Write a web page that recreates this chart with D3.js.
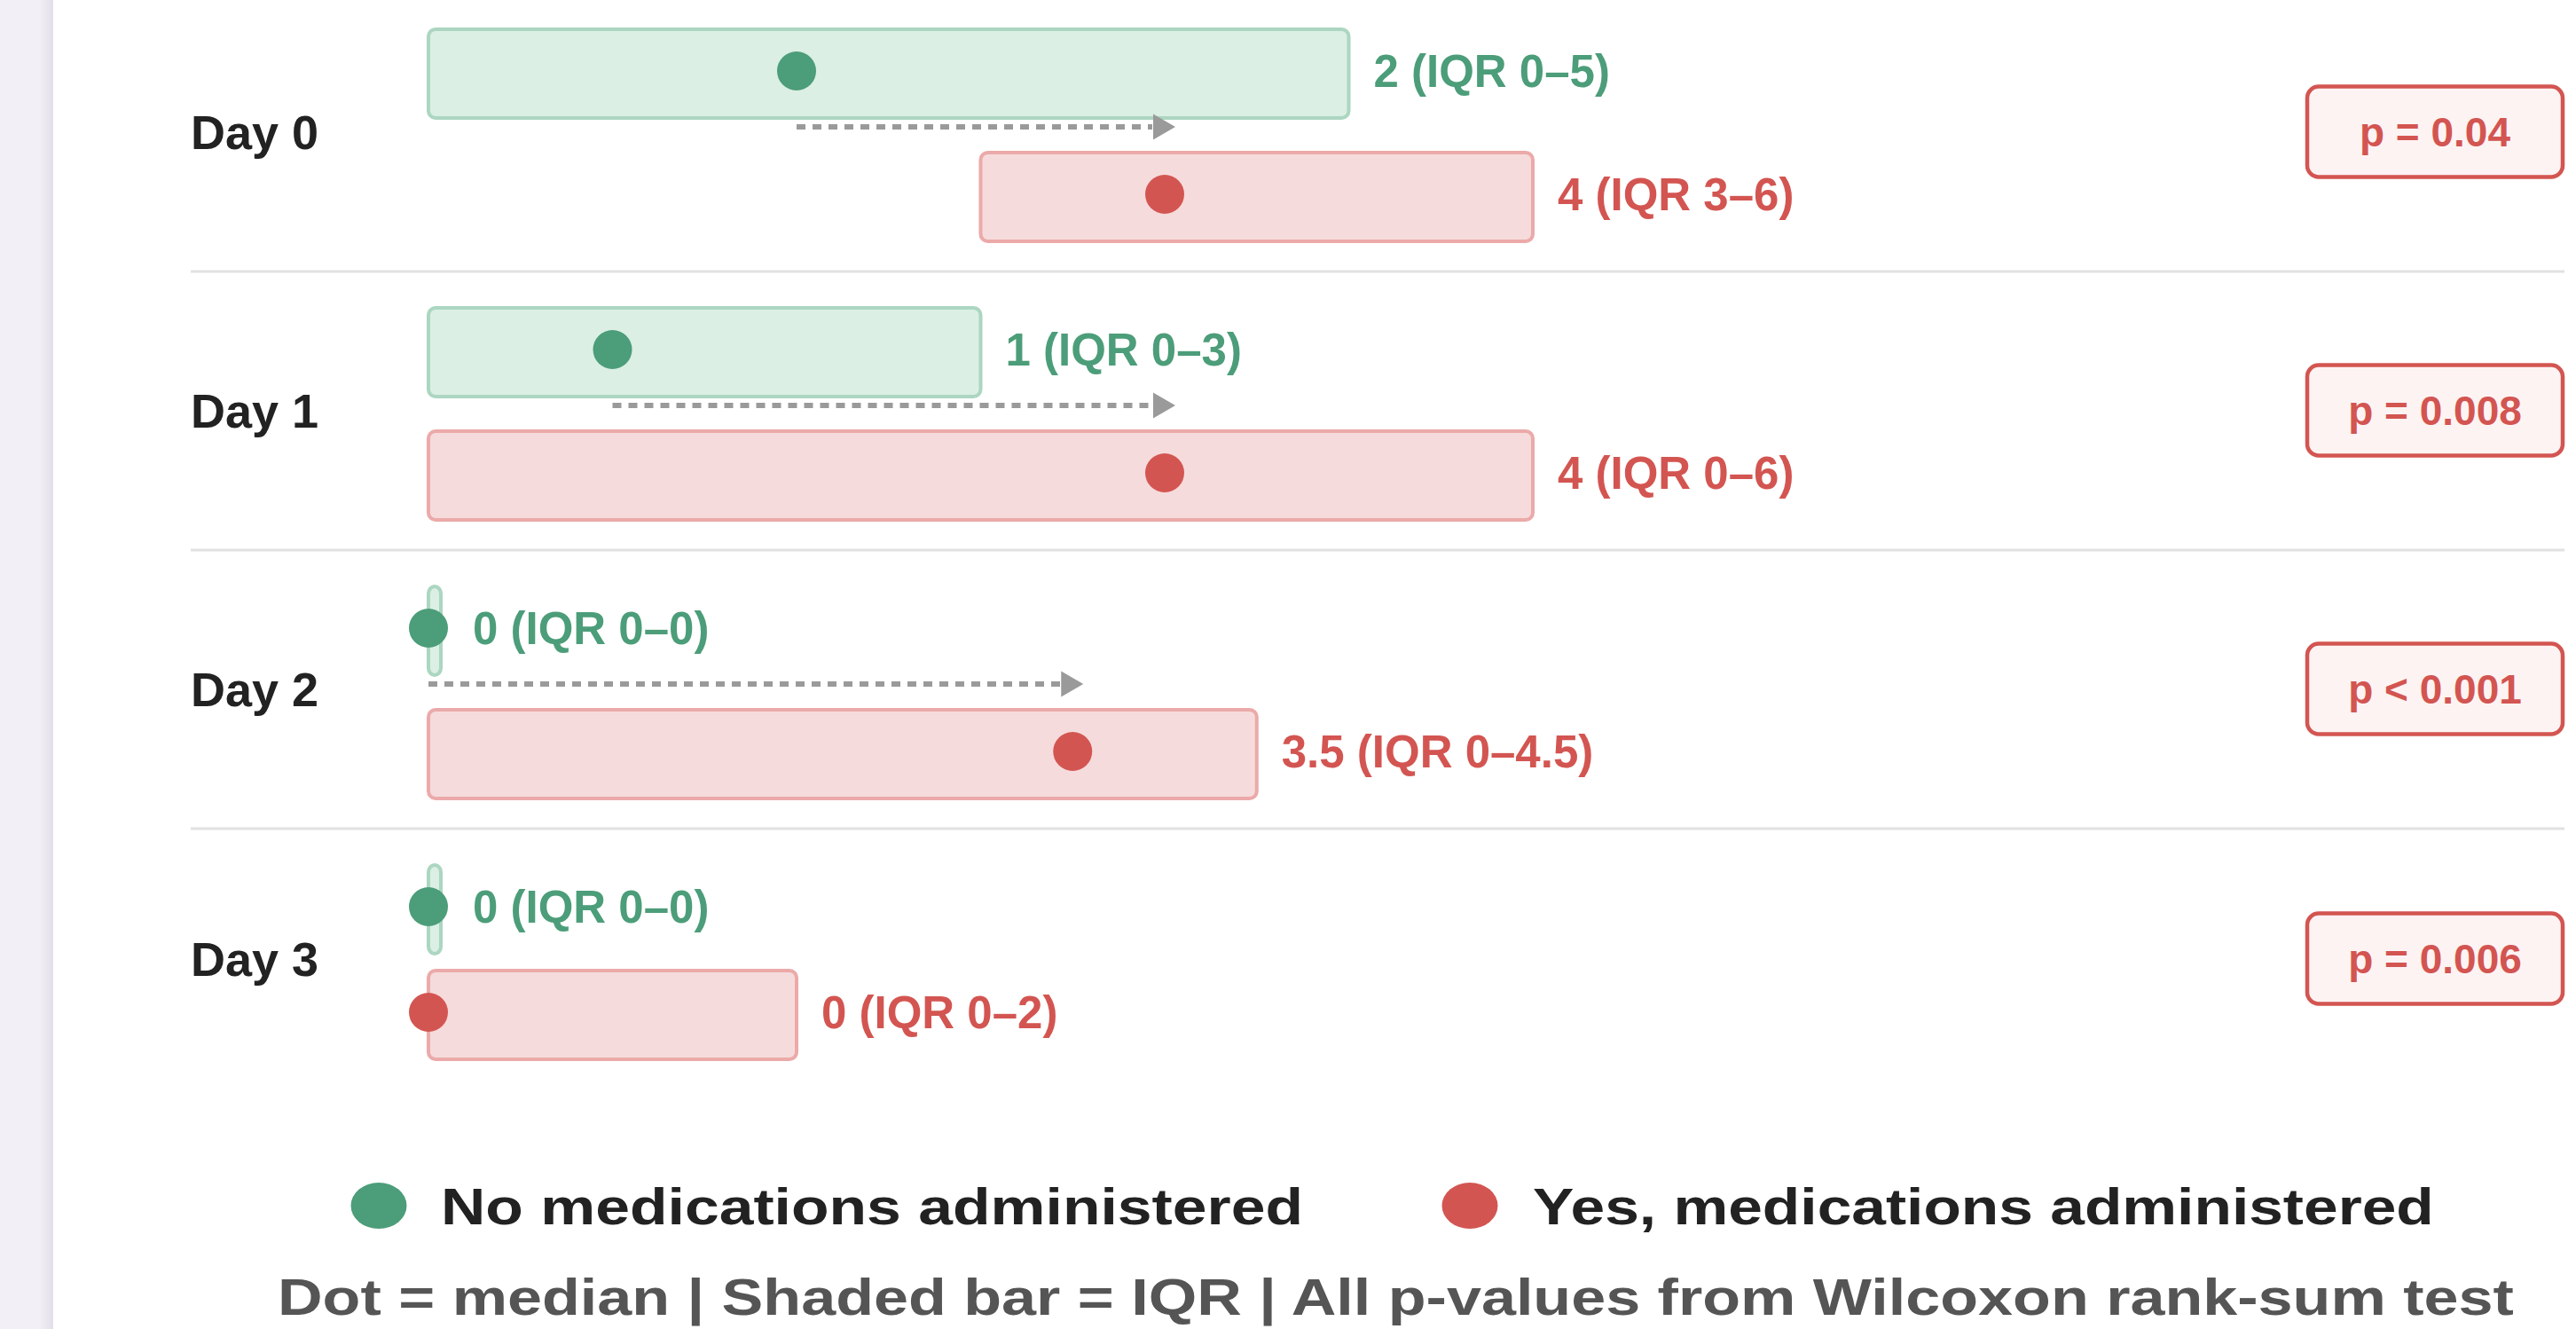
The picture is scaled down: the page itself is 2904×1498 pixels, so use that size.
<!DOCTYPE html>
<html>
<head>
<meta charset="utf-8">
<script src="https://cdn.jsdelivr.net/npm/d3@7"></script>
<style>
  body { margin: 0; background: #fff; }
  text { font-family: "Liberation Sans", Arial, Helvetica, sans-serif; font-weight: bold; }
</style>
</head>
<body>
<div id="chart"></div>
<script>
const width = 2904
const height = 1498

// data
const days = ["Day 0", "Day 1", "Day 2", "Day 3"]
const noMedMedian = [2, 1, 0, 0]
const noMedQ1 = [0, 0, 0, 0]
const noMedQ3 = [5, 3, 0, 0]
const medMedian = [4, 4, 3.5, 0]
const medQ1 = [3, 0, 0, 0]
const medQ3 = [6, 6, 4.5, 2]
const pValues = ["p = 0.04", "p = 0.008", "p < 0.001", "p = 0.006"]
const legendLabels = ["No medications administered", "Yes, medications administered"]
const footnote = "Dot = median | Shaded bar = IQR | All p-values from Wilcoxon rank-sum test"

const green = "#4c9d79"
const red = "#d35551"

const svg = d3.select("div#chart").append("svg").attr("width", width).attr("height", height)

// left side panel
svg.append("rect").attr("x", 0).attr("y", 0).attr("width", 60).attr("height", height).attr("fill", "#f2eff6")
const grad = svg.append("defs").append("linearGradient").attr("id", "edge")
grad.append("stop").attr("offset", "0%").attr("stop-color", "#f2eff6")
grad.append("stop").attr("offset", "100%").attr("stop-color", "#e3dfea")
svg.append("rect").attr("x", 44).attr("y", 0).attr("width", 16).attr("height", height).attr("fill", "url(#edge)")

const x = d3.scaleLinear().domain([0, 6]).range([483, 1728])

const rows = days.map((d, i) => ({
    day: d,
    g: {med: noMedMedian[i], q1: noMedQ1[i], q3: noMedQ3[i]},
    r: {med: medMedian[i], q1: medQ1[i], q3: medQ3[i]},
    p: pValues[i],
    arrow: noMedMedian[i] !== medMedian[i]
}))

// row geometry (relative to row top)
const barTop = 41, barH = 100
rows.forEach(r => {
    r.redTop = barTop + barH + (r.arrow ? 39 : 19)
    r.bottom = r.redTop + barH
    r.height = r.bottom + 34
    r.center = (barTop + r.bottom) / 2 - 4
})
let acc = -8
rows.forEach(r => { r.top = acc; acc += r.height })

const label = s => `${s.med} (IQR ${s.q1}\u2013${s.q3})`

const rowG = svg.selectAll("g.row").data(rows).enter()
    .append("g").attr("class", "row")
    .attr("transform", d => `translate(0, ${d.top})`)

// separators
rowG.filter((d, i) => i < rows.length - 1)
    .append("line")
    .attr("x1", 215).attr("x2", 2891)
    .attr("y1", d => d.height).attr("y2", d => d.height)
    .attr("stroke", "#e2e2e2").attr("stroke-width", 3)

// day labels
rowG.append("text")
    .attr("x", 215).attr("y", d => d.center + 19)
    .attr("font-size", 54).attr("fill", "#222")
    .text(d => d.day)

function drawGroup(sel, key, top, fill, stroke, color) {
    sel.append("rect")
        .attr("x", d => x(d[key].q1))
        .attr("y", d => top(d))
        .attr("width", d => Math.max(x(d[key].q3) - x(d[key].q1), 14))
        .attr("height", barH)
        .attr("rx", 8)
        .attr("fill", fill).attr("stroke", stroke).attr("stroke-width", 4)
    sel.append("circle")
        .attr("cx", d => x(d[key].med))
        .attr("cy", d => top(d) + barH / 2 - 3)
        .attr("r", 22)
        .attr("fill", color)
    sel.append("text")
        .attr("x", d => Math.max(x(d[key].q3), x(d[key].med) + 22) + 28)
        .attr("y", d => top(d) + barH / 2 - 3 + 18)
        .attr("font-size", 51).attr("fill", color)
        .text(d => label(d[key]))
}

drawGroup(rowG, "g", d => barTop, "#dbefe4", "#acd6c1", green)
drawGroup(rowG, "r", d => d.redTop, "#f6dbdc", "#ebaaa9", red)

// arrows from the no-med median to the med median
const arrows = rowG.filter(d => d.arrow)
const arrowY = barTop + barH + 10
arrows.append("line")
    .attr("x1", d => x(d.g.med))
    .attr("x2", d => x(d.r.med) - 14)
    .attr("y1", arrowY).attr("y2", arrowY)
    .attr("stroke", "#9a9a9a").attr("stroke-width", 6)
    .attr("stroke-dasharray", "10 8")
arrows.append("path")
    .attr("d", d => {
        const tip = x(d.r.med) + 12
        return `M${tip},${arrowY} L${tip - 25},${arrowY - 14.5} L${tip - 25},${arrowY + 14.5} Z`
    })
    .attr("fill", "#9a9a9a")

// p-value boxes
rowG.append("rect")
    .attr("x", 2601).attr("y", d => d.center - 51)
    .attr("width", 288).attr("height", 102).attr("rx", 13)
    .attr("fill", "#fdf3f3").attr("stroke", red).attr("stroke-width", 4.5)
rowG.append("text")
    .attr("x", 2745).attr("y", d => d.center + 16.5)
    .attr("text-anchor", "middle")
    .attr("font-size", 46).attr("fill", red)
    .text(d => d.p)

// stretch text horizontally to a target width (reference font is wider)
function stretch(sel) {
    sel.each(function(d) {
        const t = d3.select(this)
        const natural = this.getComputedTextLength()
        const k = d.len / natural
        t.attr("transform", `translate(${d.tx}, ${d.ty}) scale(${k}, 1)`)
            .attr("x", 0).attr("y", 0)
    })
}

// legend
const legend = svg.append("g").attr("class", "legend")
const legendItems = [
    {label: legendLabels[0], color: green, cx: 427, tx: 497, ty: 1380, len: 972},
    {label: legendLabels[1], color: red, cx: 1657, tx: 1728, ty: 1380, len: 1016}
]
legend.selectAll("ellipse").data(legendItems).enter().append("ellipse")
    .attr("cx", d => d.cx).attr("cy", 1359).attr("rx", 31.5).attr("ry", 26)
    .attr("fill", d => d.color)
legend.selectAll("text").data(legendItems).enter().append("text")
    .attr("font-size", 58).attr("fill", "#222")
    .text(d => d.label)
    .call(stretch)

svg.append("text").datum({tx: 313, ty: 1482, len: 2521})
    .attr("font-size", 58).attr("fill", "#555")
    .text(footnote)
    .call(stretch)
</script>
</body>
</html>
